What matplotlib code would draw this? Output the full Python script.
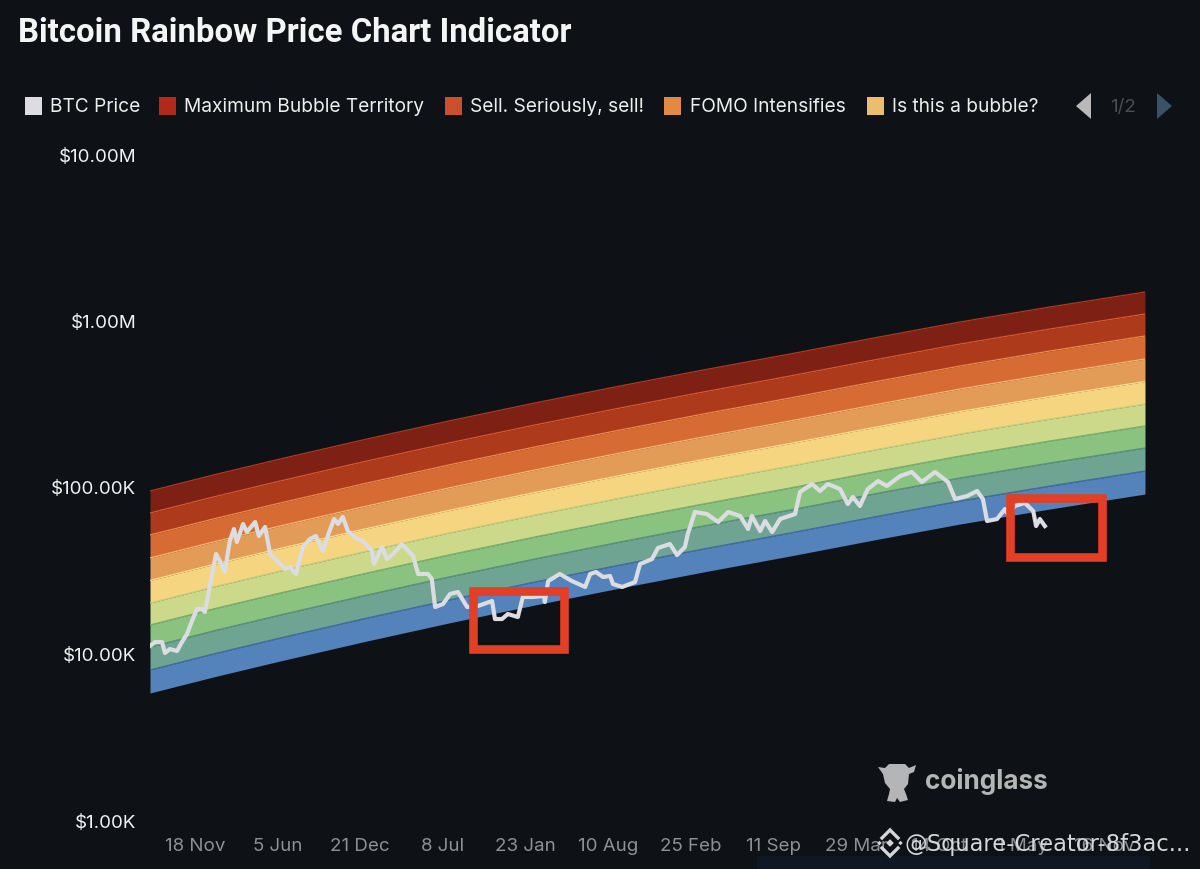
import matplotlib
matplotlib.use('Agg')
import matplotlib.pyplot as plt
from matplotlib.patches import Polygon, Rectangle

plt.rcParams['font.family'] = ['Inter', 'DejaVu Sans']

BG = '#0e1116'

title = 'Bitcoin Rainbow Price Chart Indicator'
legend_names = ['BTC Price', 'Maximum Bubble Territory', 'Sell. Seriously, sell!', 'FOMO Intensifies', 'Is this a bubble?']
legend_colors = ['#dcdde2', '#b02a1a', '#c9522c', '#e08a48', '#ecbd6e']

y_ticks = [1e3, 1e4, 1e5, 1e6, 1e7]
y_labels = ['$1.00K', '$10.00K', '$100.00K', '$1.00M', '$10.00M']
# 横轴单位: 距 2020-08-01 的天数
x_ticks = [108, 307, 506, 705, 904, 1103, 1302, 1501, 1700, 1899, 2098, 2297]
x_labels = ['18 Nov', '5 Jun', '21 Dec', '8 Jul', '23 Jan', '10 Aug', '25 Feb', '11 Sep', '29 Mar', '14 Oct', '1 May', '16 Nov']

band_days = [0, 156, 313, 517, 722, 926, 1131, 1335, 1540, 1744, 1949, 2165, 2394]
b0 = [5791, 7264, 9015, 11810, 15310, 19560, 24740, 30990, 38510, 48180, 59940, 73750, 90760]
b1 = [7958, 9983, 12390, 16220, 21030, 26880, 34000, 42590, 52920, 66210, 82380, 101300, 124700]
b2 = [10940, 13730, 17030, 22310, 28920, 36960, 46740, 58560, 72760, 91030, 113300, 139300, 171500]
b3 = [14830, 18610, 23090, 30240, 39210, 50100, 63370, 79390, 98640, 123400, 153500, 188900, 232500]
b4 = [20100, 25220, 31290, 40980, 53130, 67900, 85870, 107600, 133700, 167200, 208100, 256000, 315100]
b5 = [27440, 34430, 42720, 55950, 72530, 92690, 117200, 146900, 182500, 228300, 284100, 349500, 430100]
b6 = [37460, 46990, 58310, 76370, 99010, 126500, 160000, 200500, 249100, 311600, 387800, 477000, 587100]
b7 = [51480, 64580, 80140, 104900, 136100, 173900, 219900, 275500, 342300, 428300, 532900, 655600, 806900]
b8 = [69780, 87540, 108600, 142300, 184400, 235700, 298100, 373500, 464000, 580500, 722300, 888700, 1094000]
b9 = [94620, 118700, 147300, 192900, 250100, 319600, 404200, 506400, 629200, 787200, 979500, 1205000, 1483000]
boundaries = [b0, b1, b2, b3, b4, b5, b6, b7, b8, b9]

# 从下到上
band_colors = ['#5482bb', '#6fa492', '#8ac37f', '#ccd98a', '#f5d57f', '#e39c58', '#d66c33', '#ae3a1c', '#7f2015']
edge_colors = ['#3f6aa0', '#588f7c', '#74ad6c', '#c0cf7e', '#fbe08e', '#f5b870', '#ee8c4d', '#d95a30', '#b03a22']

price_days = [0, 12, 29, 36, 48, 65, 77, 89, 101, 113, 125, 132, 144, 159, 168, 180, 192, 202, 209, 224,
              233, 253, 262, 277, 289, 306, 325, 337, 351, 368, 385, 399, 416, 431, 443, 452, 464, 476, 498, 512,
              534, 539, 558, 570, 585, 606, 633, 645, 669, 678, 686, 705, 722, 741, 763, 789, 823, 830, 847, 861,
              885, 897, 921, 948, 950, 958, 986, 1015, 1047, 1059, 1073, 1090, 1107, 1114, 1136, 1167, 1179, 1208, 1222, 1251, 1268, 1287,
              1294, 1311, 1340, 1367, 1391, 1420, 1439, 1448, 1468, 1480, 1497, 1516, 1552, 1564, 1593, 1612, 1631, 1660, 1679, 1691,
              1708, 1727, 1752, 1773, 1805, 1833, 1857, 1889, 1920, 1937, 1966, 1990, 2004, 2014, 2038, 2057, 2064, 2081, 2105, 2125,
              2132, 2141, 2153]
price_usd = [11090, 11720, 11720, 10070, 10640, 10350, 11720, 13090, 15670, 18510, 18510, 17750, 25440, 39590, 35940, 30870, 47400, 55940, 46750, 59950,
             53670, 61630, 50790, 57510, 39590, 35940, 32180, 33070, 30030, 43620, 48730, 50790, 41270, 53670, 64230, 59950, 66050, 54400, 48730, 47400,
             41270, 34480, 43620, 36950, 39590, 45460, 38500, 30030, 30030, 28020, 19020, 19830, 22770, 23400, 19020, 19290, 20670, 16110, 16110, 17270,
             16560, 21840, 21840, 22150, 20380, 27250, 30030, 27250, 25090, 30030, 30870, 28800, 29200, 26150, 25090, 26880, 34480, 36950, 43010, 45460, 39050, 43620,
             52210, 70760, 68820, 61630, 70760, 66960, 55940, 66960, 54400, 62500, 53670, 64230, 68820, 93300, 104200, 94600, 104200, 97300, 79040, 87100,
             76900, 97300, 108600, 101400, 116400, 123000, 107200, 123000, 107200, 84700, 88300, 94600, 84700, 62500, 64230, 73760, 68820, 76900, 80200, 71750,
             58300, 64230, 58300]

fig = plt.figure(figsize=(12, 8.7), dpi=100, facecolor=BG)
ax = fig.add_axes([150 / 1200, 1 - 821 / 870, 995 / 1200, 666 / 870], facecolor=BG)
ax.set_yscale('log')
ax.set_xlim(0, 2394)
ax.set_ylim(1e3, 1e7)

for i in range(9):
    ax.fill_between(band_days, boundaries[i], boundaries[i + 1], color=band_colors[i], lw=0)
    ax.plot(band_days, boundaries[i + 1], color=edge_colors[i], lw=0.9)

ax.plot(price_days, price_usd, color='#dcdde2', lw=3, solid_joinstyle='round')

ax.set_yticks(y_ticks)
ax.set_yticklabels(y_labels, color='#f0f1f2', fontsize=13.5)
ax.set_yticks([], minor=True)
ax.set_xticks(x_ticks)
ax.set_xticklabels(x_labels, color='#8d9196', fontsize=13.5)
ax.tick_params(axis='y', length=0, pad=10)
ax.tick_params(axis='x', length=0, pad=12)
for s in ax.spines.values():
    s.set_visible(False)

# 覆盖层，坐标为图片像素
ov = fig.add_axes([0, 0, 1, 1], facecolor='none')
ov.set_xlim(0, 1200)
ov.set_ylim(870, 0)
ov.axis('off')

ov.text(18, 33, title, color='#f4f5f6', fontsize=23.7, fontweight='bold', va='center', ha='left', family='Roboto')

square_x = [25, 159, 445, 664, 867]
for sx, name, c in zip(square_x, legend_names, legend_colors):
    ov.add_patch(Rectangle((sx, 98), 17, 18, color=c, lw=0))
    ov.text(sx + 25.5, 107, name, color='#eceded', fontsize=13.8, va='center', ha='left')

ov.add_patch(Polygon([[1091, 94], [1091, 120], [1076, 107]], color='#b9b9b9', lw=0))
ov.text(1123, 107, '1/2', color='#4a4e53', fontsize=13.5, va='center', ha='center')
ov.add_patch(Polygon([[1157, 94], [1157, 120], [1172, 107]], color='#3a5266', lw=0))

# 红框
ov.add_patch(Rectangle((472.5, 591.5), 91.5, 58.5, fill=False, ec='#e23f26', lw=6.2, joinstyle='miter'))
ov.add_patch(Rectangle((1009.5, 499), 92, 58.5, fill=False, ec='#e23f26', lw=6.2, joinstyle='miter'))

# 水印
grey = '#b4b5b6'
logo = [[878, 768], [885, 769], [889, 765], [905, 765], [909, 769], [916, 766], [914, 773], [909, 775], [908, 785],
        [904, 790], [906, 795], [908, 801], [900, 803], [897, 799], [895, 803], [887, 802], [889, 795], [890, 790],
        [885, 784], [883, 775]]
ov.add_patch(Polygon(logo, color=grey, lw=0, joinstyle='round'))
ov.text(925, 782, 'coinglass', color=grey, fontsize=18.8, fontweight='bold', va='center', ha='left')

ov.add_patch(Rectangle((757, 857), 393, 13, color='#0f1724', lw=0))
ov.plot([882, 890, 898], [839, 831, 839], color='#d6d6d6', lw=2.4, solid_joinstyle='miter')
ov.plot([882, 890, 898], [849, 857, 849], color='#d6d6d6', lw=2.4, solid_joinstyle='miter')
for cx, r in [(890, 3.8), (879.5, 2.2), (900.5, 2.2)]:
    ov.add_patch(Polygon([[cx - r, 844], [cx, 844 - r], [cx + r, 844], [cx, 844 + r]], color='#d6d6d6', lw=0))
ov.text(905, 845, '@Square-Creator-8f3ac...', color='#d6d7d8', fontsize=16.3, va='center', ha='left', family='DejaVu Sans')

fig.savefig('out.png', dpi=100, facecolor=BG)
plt.close()
